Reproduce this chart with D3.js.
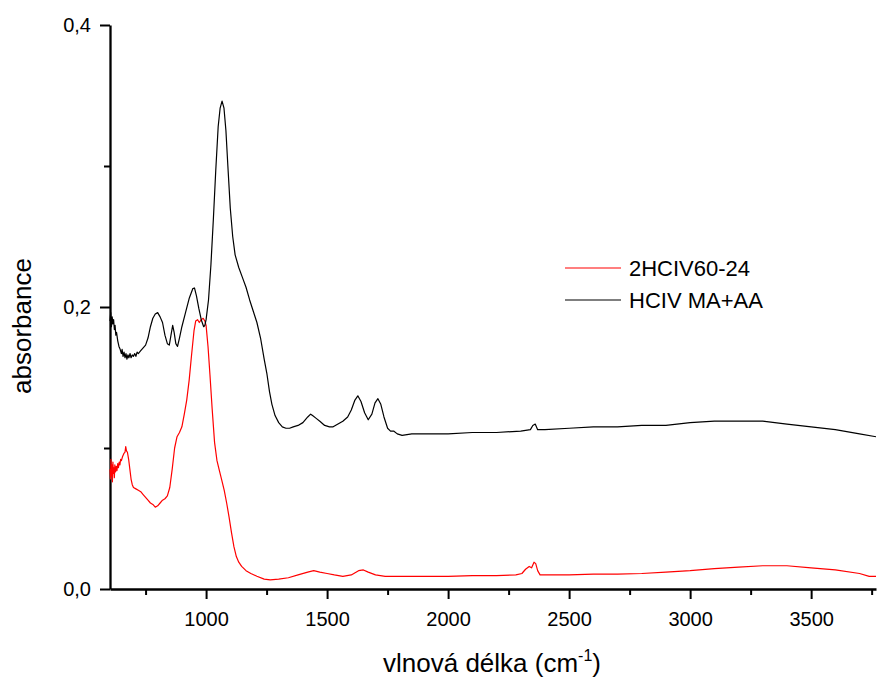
<!DOCTYPE html>
<html>
<head>
<meta charset="utf-8">
<script src="https://cdn.jsdelivr.net/npm/d3@7"></script>
<style>
  html, body { margin: 0; padding: 0; background: #fff; }
  svg { display: block; }
  text { font-family: "Liberation Sans", Arial, sans-serif; fill: #000; }
</style>
</head>
<body>
<svg id="chart" width="877" height="677"></svg>
<script>
// IR spectra: wavenumber (cm^-1) and absorbance
const seriesNames = ["2HCIV60-24", "HCIV MA+AA"];
const seriesColors = ["#ff0000", "#000000"];

const sampleRed = [
  [603,0.085],[605,0.078],[607,0.092],[609,0.080],[611,0.088],[613,0.076],[615,0.090],[617,0.082],
  [619,0.086],[621,0.079],[623,0.088],[626,0.083],[629,0.087],[632,0.084],[635,0.089],[638,0.086],
  [641,0.090],[644,0.088],[647,0.092],[650,0.091],[655,0.094],[660,0.096],[665,0.097],[668,0.101],
  [671,0.098],[675,0.097],[680,0.092],[685,0.085],[690,0.078],[695,0.074],[700,0.072],[710,0.071],
  [720,0.070],[730,0.069],[740,0.067],[750,0.065],[760,0.063],[770,0.061],[780,0.060],[790,0.058],
  [800,0.059],[810,0.061],[820,0.063],[830,0.064],[840,0.066],[850,0.072],[860,0.085],[870,0.100],
  [880,0.108],[890,0.111],[900,0.115],[910,0.124],[920,0.134],[930,0.148],[940,0.166],[950,0.183],
  [957,0.190],[965,0.191],[972,0.189],[980,0.191],[988,0.192],[995,0.190],[1000,0.187],[1008,0.172],
  [1016,0.152],[1025,0.128],[1035,0.104],[1045,0.091],[1055,0.084],[1065,0.077],[1075,0.070],
  [1085,0.061],[1095,0.051],[1105,0.040],[1115,0.030],[1125,0.023],[1135,0.019],[1147,0.016],
  [1165,0.013],[1185,0.011],[1210,0.009],[1240,0.007],[1265,0.0065],[1300,0.007],[1340,0.008],
  [1380,0.010],[1420,0.012],[1445,0.013],[1470,0.012],[1500,0.011],[1530,0.010],[1565,0.009],
  [1600,0.010],[1630,0.013],[1650,0.0135],[1670,0.012],[1700,0.010],[1740,0.009],[1800,0.009],
  [1900,0.009],[2000,0.009],[2100,0.0095],[2200,0.0095],[2280,0.010],[2305,0.011],[2320,0.014],
  [2335,0.016],[2345,0.015],[2355,0.019],[2362,0.018],[2370,0.013],[2380,0.010],[2400,0.010],
  [2500,0.010],[2600,0.0105],[2700,0.0105],[2800,0.011],[2900,0.012],[3000,0.013],[3100,0.0145],
  [3200,0.0155],[3300,0.0165],[3400,0.0165],[3500,0.015],[3600,0.0135],[3700,0.011],[3740,0.009],
  [3768,0.009]
];

const sampleBlack = [
  [603,0.190],[606,0.196],[609,0.186],[612,0.193],[615,0.188],[618,0.191],[621,0.184],[624,0.187],
  [627,0.180],[630,0.182],[635,0.176],[640,0.172],[645,0.170],[650,0.167],[653,0.170],[657,0.165],
  [661,0.168],[665,0.164],[669,0.167],[673,0.163],[677,0.166],[681,0.164],[686,0.167],[690,0.164],
  [695,0.166],[700,0.165],[705,0.167],[710,0.165],[715,0.168],[720,0.167],[730,0.169],[740,0.171],
  [750,0.173],[760,0.178],[770,0.186],[780,0.192],[790,0.195],[800,0.196],
  [810,0.193],[820,0.189],[830,0.180],[840,0.174],[848,0.173],[855,0.180],[862,0.187],[868,0.182],
  [875,0.174],[882,0.172],[890,0.178],[900,0.186],[915,0.196],[930,0.206],[945,0.213],[952,0.2135],
  [960,0.208],[970,0.199],[980,0.191],[990,0.186],[995,0.187],[1000,0.191],[1010,0.205],[1020,0.230],
  [1030,0.262],[1040,0.297],[1050,0.328],[1058,0.341],[1066,0.346],[1074,0.341],[1082,0.325],
  [1090,0.300],[1100,0.270],[1110,0.250],[1120,0.237],[1135,0.228],[1150,0.221],[1165,0.214],
  [1180,0.205],[1195,0.197],[1210,0.189],[1225,0.178],[1240,0.163],[1251,0.153],[1262,0.140],
  [1272,0.131],[1285,0.123],[1300,0.118],[1315,0.115],[1330,0.114],[1345,0.114],[1360,0.115],
  [1380,0.116],[1400,0.118],[1420,0.122],[1432,0.124],[1440,0.123],[1455,0.121],[1470,0.119],
  [1490,0.116],[1510,0.115],[1525,0.115],[1545,0.117],[1565,0.119],[1585,0.122],[1600,0.127],
  [1615,0.134],[1627,0.137],[1640,0.133],[1655,0.125],[1670,0.120],[1685,0.124],[1698,0.132],
  [1710,0.135],[1722,0.131],[1735,0.122],[1750,0.114],[1762,0.112],[1775,0.112],[1790,0.110],
  [1810,0.109],[1850,0.110],[1900,0.110],[1950,0.110],[2000,0.110],[2100,0.111],[2200,0.111],
  [2300,0.112],[2340,0.113],[2350,0.116],[2360,0.117],[2370,0.113],[2400,0.113],[2500,0.114],
  [2600,0.115],[2700,0.115],[2800,0.116],[2900,0.116],[3000,0.118],[3100,0.119],[3200,0.119],
  [3300,0.119],[3400,0.117],[3500,0.115],[3600,0.113],[3700,0.110],[3768,0.108]
];

const xMajorTicks = [1000, 1500, 2000, 2500, 3000, 3500];
const xMinorTicks = [750, 1250, 1750, 2250, 2750, 3250, 3750];
const yMajorTicks = [0, 0.2, 0.4];
const yMinorTicks = [0.1, 0.3];

const svg = d3.select("#chart");
const plotLeft = 110, plotRight = 876, plotTop = 25, plotBottom = 589;

const x = d3.scaleLinear().domain([603, 3768]).range([plotLeft, plotRight]);
const y = d3.scaleLinear().domain([0, 0.4]).range([plotBottom, plotTop]);

const fmtY = v => d3.format(".1f")(v).replace(".", ",");

// minor ticks
svg.append("g").attr("transform", `translate(0,${plotBottom})`)
  .call(d3.axisBottom(x).tickValues(xMinorTicks).tickSize(6).tickFormat(""))
  .call(g => g.select(".domain").remove())
  .selectAll("line").attr("stroke", "#000").attr("stroke-width", 2);
svg.append("g").attr("transform", `translate(${plotLeft},0)`)
  .call(d3.axisLeft(y).tickValues(yMinorTicks).tickSize(6).tickFormat(""))
  .call(g => g.select(".domain").remove())
  .selectAll("line").attr("stroke", "#000").attr("stroke-width", 2);

// major axes
const xAxis = svg.append("g").attr("transform", `translate(0,${plotBottom})`)
  .call(d3.axisBottom(x).tickValues(xMajorTicks).tickFormat(d3.format("d"))
    .tickSize(10).tickSizeOuter(0).tickPadding(13));
const yAxis = svg.append("g").attr("transform", `translate(${plotLeft},0)`)
  .call(d3.axisLeft(y).tickValues(yMajorTicks).tickFormat(fmtY).tickSize(10).tickSizeOuter(0).tickPadding(9));

[xAxis, yAxis].forEach(g => {
  g.select(".domain").attr("stroke", "#000").attr("stroke-width", 2.3);
  g.selectAll(".tick line").attr("stroke", "#000").attr("stroke-width", 2);
  g.selectAll(".tick text").attr("font-size", 20).attr("font-family", "'Liberation Sans', Arial, sans-serif").attr("fill", "#000");
});

// spectra
const line = d3.line().x(d => x(d[0])).y(d => y(d[1]));
const seriesData = [sampleRed, sampleBlack];
seriesData.forEach((data, i) => {
  svg.append("path").datum(data)
    .attr("fill", "none")
    .attr("stroke", seriesColors[i])
    .attr("stroke-width", 1.2)
    .attr("stroke-linejoin", "round")
    .attr("d", line);
});

// legend
const legend = svg.append("g").attr("transform", "translate(565,268)");
seriesNames.forEach((name, i) => {
  const row = legend.append("g").attr("transform", `translate(0,${i * 32})`);
  row.append("line").attr("x1", 0).attr("x2", 56).attr("y1", 0).attr("y2", 0)
    .attr("stroke", seriesColors[i]).attr("stroke-width", 1.2);
  row.append("text").attr("x", 64).attr("y", 8).attr("font-size", 22).text(name);
});

// axis titles
const xt = svg.append("text").attr("x", 492).attr("y", 672)
  .attr("text-anchor", "middle").attr("font-size", 26);
xt.append("tspan").text("vlnová délka (cm");
xt.append("tspan").attr("font-size", 16).attr("dy", -11).text("-1");
xt.append("tspan").attr("dy", 11).text(")");

svg.append("text")
  .attr("transform", "translate(31,326) rotate(-90)")
  .attr("text-anchor", "middle").attr("font-size", 26)
  .text("absorbance");
</script>
</body>
</html>
